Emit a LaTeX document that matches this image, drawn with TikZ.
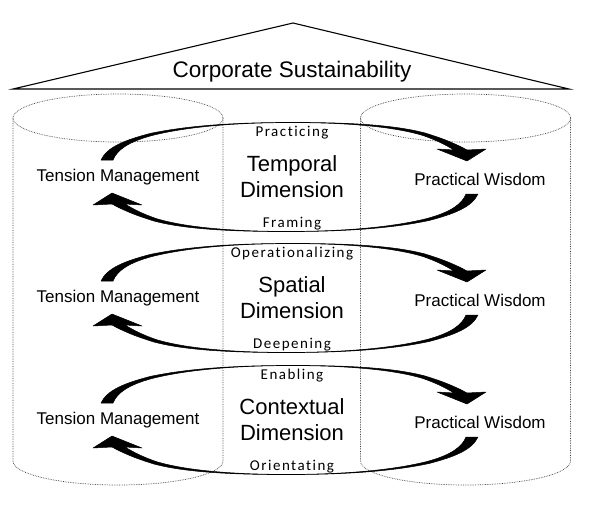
\documentclass[tikz,border=0pt]{standalone}
\usepackage{fontspec}
\setmainfont{Liberation Sans}
\newfontfamily\verbfont[LetterSpace=10,Ligatures=NoCommon]{Carlito}
\begin{document}
\begin{tikzpicture}[x=1pt,y=-1pt,
  cyl/.style={densely dotted,line width=0.7pt,black!75},
  sweep/.style={fill=black,draw=black,line width=0.5pt,line join=round},
  sidetext/.style={font=\fontsize{17}{20}\selectfont},
  dimtext/.style={font=\fontsize{22}{26}\selectfont,align=center},
  verbtext/.style={font=\verbfont\fontsize{15}{18}\selectfont}]
  \useasboundingbox (0,0) rectangle (593,520);
  % roof
  \draw[line width=1.1pt,line join=miter] (13,89) -- (293,23) -- (569,89) -- cycle;
  \node (roof) at (292,72) {\fontsize{22.5}{27}\selectfont Corporate Sustainability};
  % the two cylinders
  \foreach \cx in {118,465.5} {
    \draw[cyl] (\cx,118) ellipse [x radius=105, y radius=24];
    \draw[cyl] (\cx-105,118) -- (\cx-105,461)
      arc [start angle=180, end angle=0, x radius=105, y radius=24] -- (\cx+105,118);
  }
  % one loop per dimension, the lower sweep is the upper one turned round
  \foreach \dy/\va/\da/\db/\vb [count=\i] in {
      0/Practicing/Temporal/Dimension/Framing,
      121/Operationalizing/Spatial/Dimension/Deepening,
      243/Enabling/Contextual/Dimension/Orientating} {
    \begin{scope}[shift={(0,\dy)}]
      \foreach \r in {0,180}
        \draw[sweep,rotate around={\r:(289.5,177)}]
          (101,160) .. controls (107,147) and (125,140) .. (150,133.5)
          .. controls (190,125) and (240,122.4) .. (292,122.4)
          .. controls (350,122.4) and (395,125) .. (425,133)
          .. controls (445,139) and (458,145) .. (467,150)
          -- (486,149) -- (467,161) -- (437,149) -- (454,150)
          .. controls (446,145) and (436,140) .. (423,135.5)
          .. controls (395,127) and (350,122.6) .. (292,122.6)
          .. controls (240,122.6) and (190,126) .. (152,135.5)
          .. controls (128,142) and (117,150) .. (113,160) -- cycle;
      \node[verbtext] (va\i) at (292,133) {\va};
      \node[dimtext] (dim\i) at (292,176.5) {\da\\\db};
      \node[verbtext] (vb\i) at (292,223.5) {\vb};
      \node[sidetext] (tm\i) at (118,177) {Tension Management};
      \node[sidetext] (pw\i) at (480,179) {Practical Wisdom};
    \end{scope}
  }
\end{tikzpicture}
\end{document}
